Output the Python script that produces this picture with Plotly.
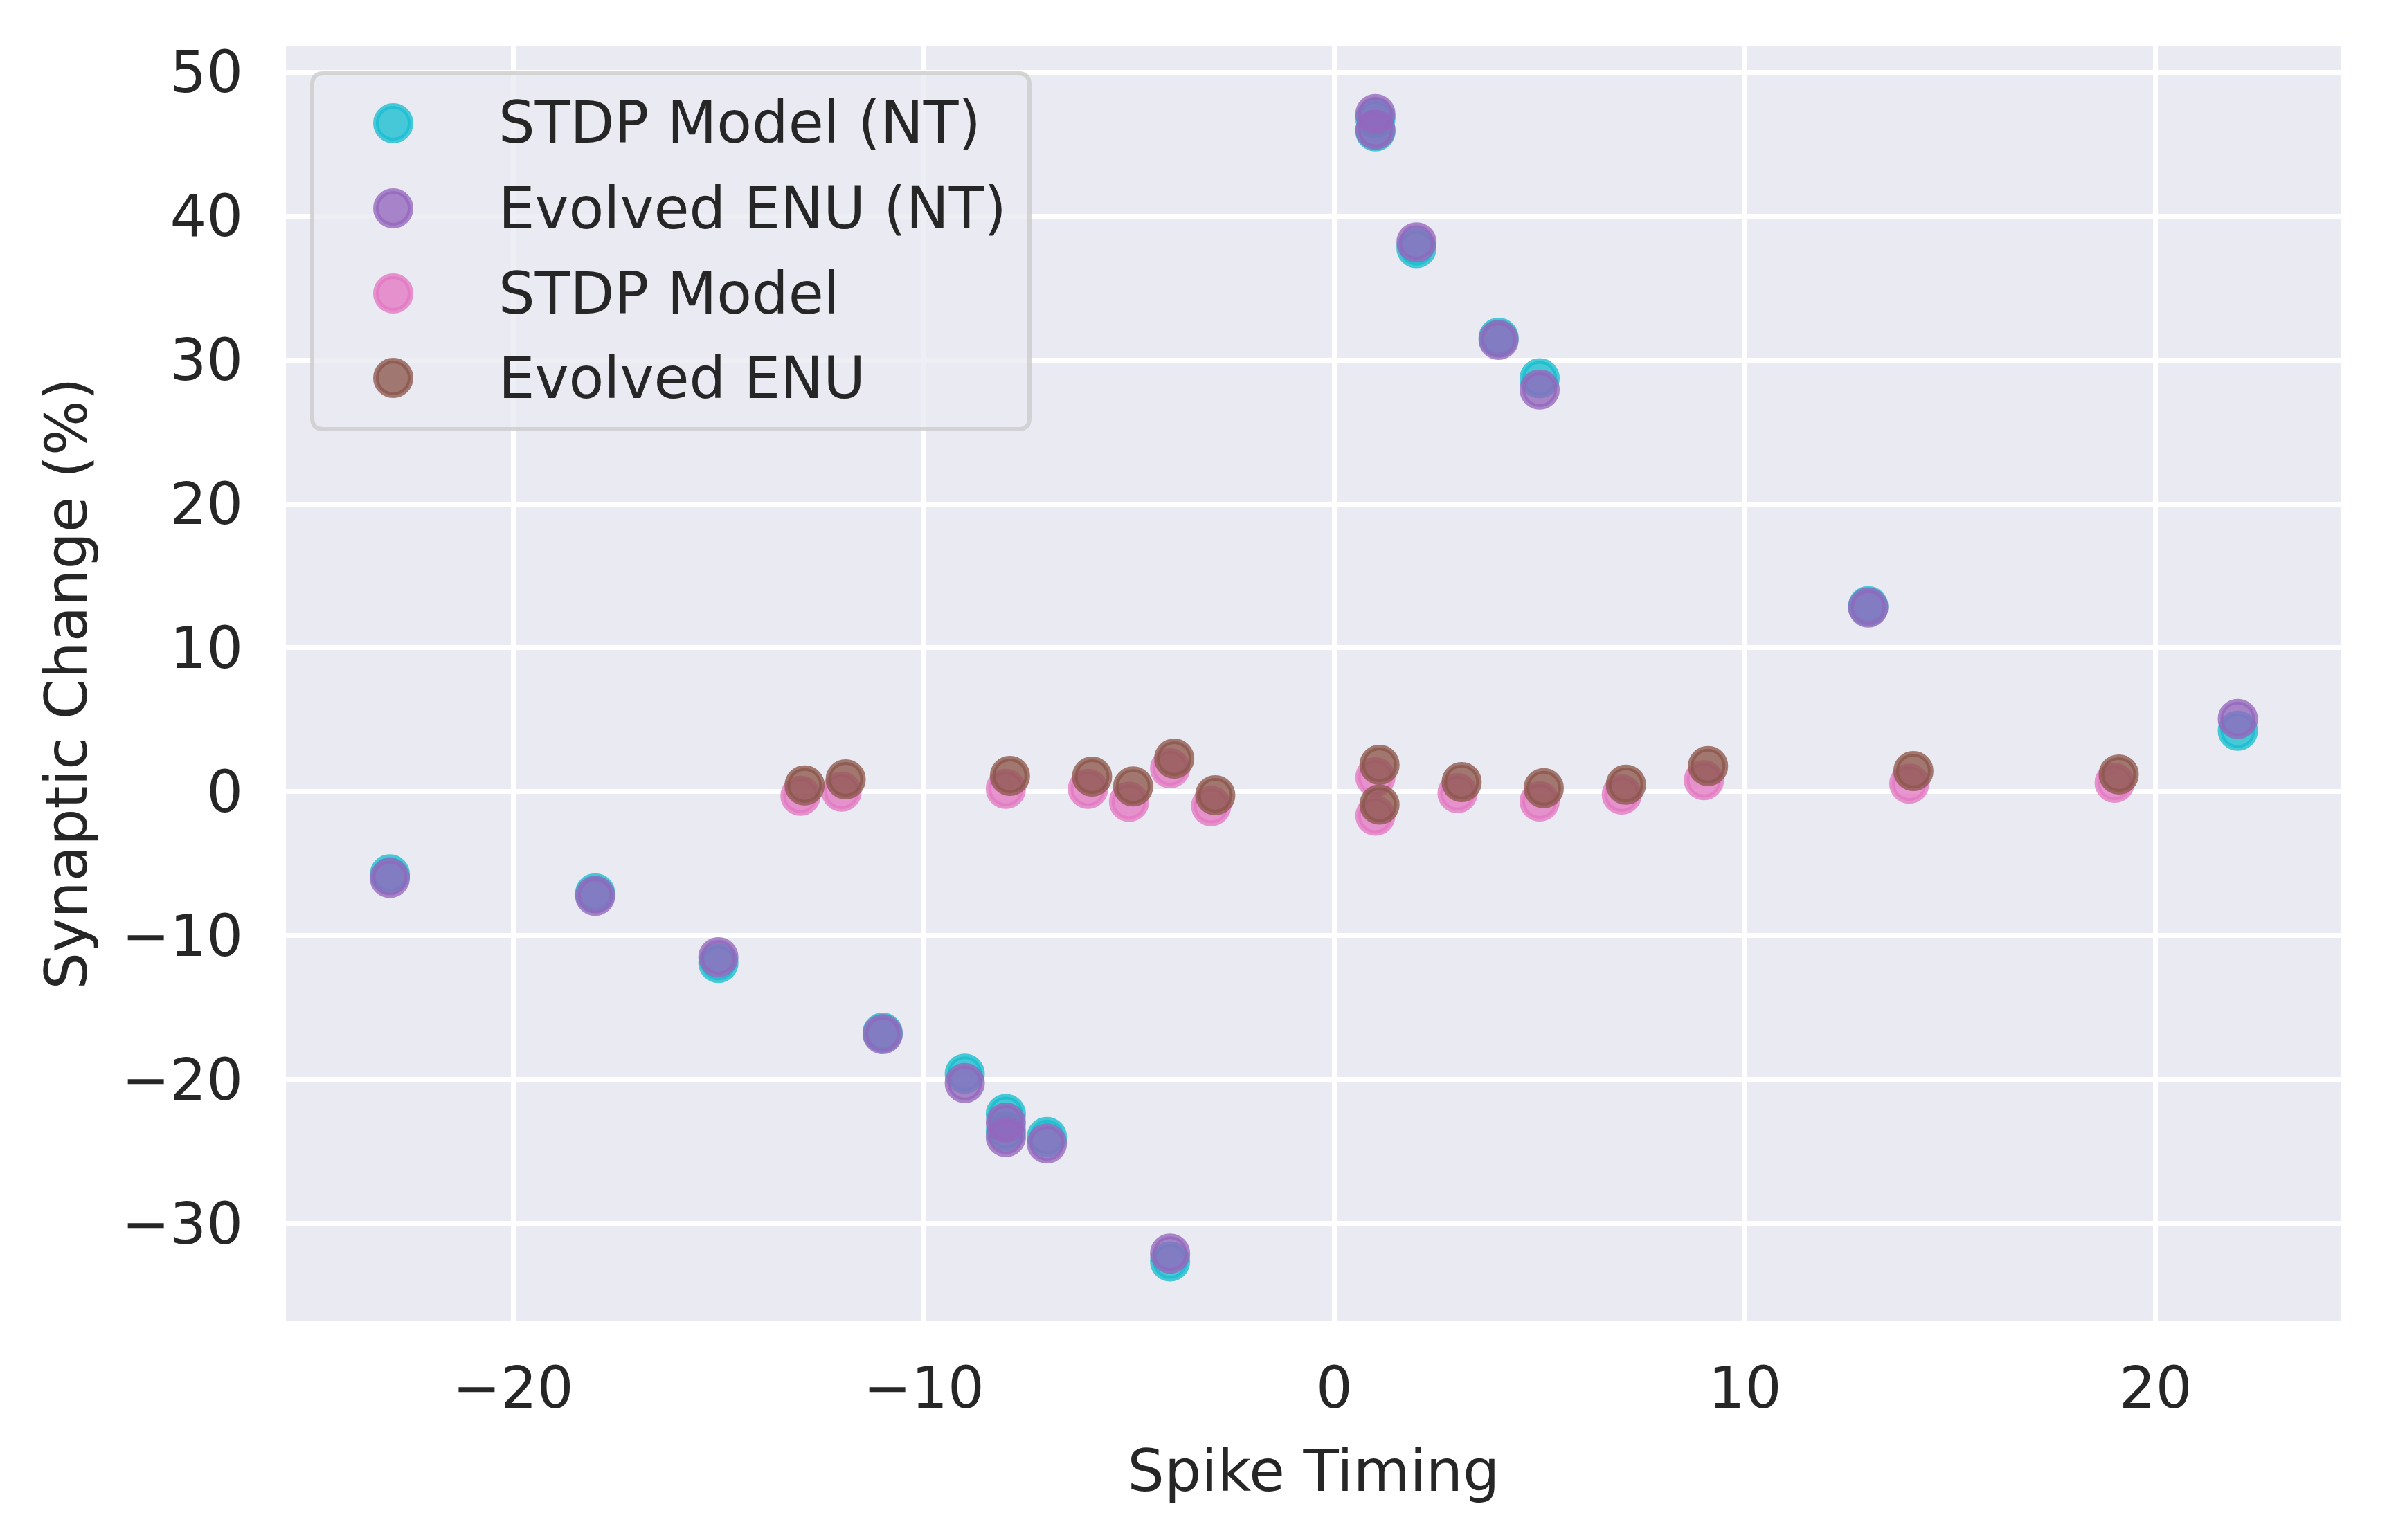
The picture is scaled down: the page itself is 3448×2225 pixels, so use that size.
import plotly.graph_objects as go

# ---- data ------------------------------------------------------------------
NT_TIMING = [-23, -18, -15, -11, -9, -8, -8, -7, -4, 1, 1, 2, 4, 5, 13, 22]
STDP_NT = [-5.75, -7.07, -11.9, -16.75, -19.6, -22.4, -23.6, -24.0, -32.65,
           46.8, 45.9, 37.78, 31.55, 28.73, 12.9, 4.24]
ENU_NT = [-6.0, -7.24, -11.5, -16.85, -20.25, -23.0, -24.0, -24.45, -32.1,
          47.1, 46.0, 38.18, 31.4, 27.95, 12.8, 5.05]

STDP_TIMING = [-13, -12, -8, -6, -5, -4, -3, 1, 1, 3, 5, 7, 9, 14, 19]
STDP = [-0.28, 0.0, 0.2, 0.2, -0.7, 1.63, -1.0, 1.0, -1.67, -0.1, -0.68,
        -0.2, 0.8, 0.56, 0.62]
ENU_TIMING = [-12.9, -11.9, -7.9, -5.9, -4.9, -3.9, -2.9, 1.1, 1.1, 3.1, 5.1,
              7.1, 9.1, 14.1, 19.1]
ENU = [0.44, 0.86, 1.1, 1.05, 0.36, 2.3, -0.25, 1.87, -0.9, 0.67, 0.24, 0.48,
       1.78, 1.43, 1.2]

SERIES = [
    ("STDP Model (NT)", NT_TIMING, STDP_NT, (23, 190, 207)),
    ("Evolved ENU (NT)", NT_TIMING, ENU_NT, (148, 103, 189)),
    ("STDP Model", STDP_TIMING, STDP, (227, 119, 194)),
    ("Evolved ENU", ENU_TIMING, ENU, (140, 86, 75)),
]

X_TICKS = [-20, -10, 0, 10, 20]
Y_TICKS = [-30, -20, -10, 0, 10, 20, 30, 40, 50]

# ---- geometry (pixels) -----------------------------------------------------
W, H = 3448, 2225
PL, PR, PT, PB = 413, 3382, 67, 1908
OFF = 8  # page body margin in the browser
FONT = dict(family="DejaVu Sans", size=83, color="#262626")
TITLE_FONT = dict(family="DejaVu Sans", size=84, color="#262626")
ALPHA = 0.78


def rgba(c, a):
    return f"rgba({c[0]},{c[1]},{c[2]},{a})"


def px_x(p):
    return (p - PL) / (PR - PL)


def px_y(p):
    return (PB - p) / (PB - PT)


fig = go.Figure()
for name, xs, ys, col in SERIES:
    fig.add_trace(go.Scatter(
        x=xs, y=ys, mode="markers", name=name, showlegend=False,
        marker=dict(size=50, color=rgba(col, ALPHA),
                    line=dict(width=8, color=rgba(col, ALPHA))),
    ))

# ---- hand-built legend (plotly caps legend marker size) -------------------
shapes = []
annotations = []
lx0, lx1, ly0, ly1, r = 451, 1487, 106, 620, 16
box = (f"M {px_x(lx0 + r)},{px_y(ly0)} L {px_x(lx1 - r)},{px_y(ly0)} "
       f"Q {px_x(lx1)},{px_y(ly0)} {px_x(lx1)},{px_y(ly0 + r)} "
       f"L {px_x(lx1)},{px_y(ly1 - r)} "
       f"Q {px_x(lx1)},{px_y(ly1)} {px_x(lx1 - r)},{px_y(ly1)} "
       f"L {px_x(lx0 + r)},{px_y(ly1)} "
       f"Q {px_x(lx0)},{px_y(ly1)} {px_x(lx0)},{px_y(ly1 - r)} "
       f"L {px_x(lx0)},{px_y(ly0 + r)} "
       f"Q {px_x(lx0)},{px_y(ly0)} {px_x(lx0 + r)},{px_y(ly0)} Z")
shapes.append(dict(type="path", path=box, xref="paper", yref="paper",
                   fillcolor="rgba(234,234,242,0.8)",
                   line=dict(color="rgba(204,204,204,0.8)", width=6),
                   layer="above"))
row_y = [178, 301, 424, 546]
mx, rad = 568, 25
for (name, _, _, col), ry in zip(SERIES, row_y):
    shapes.append(dict(type="circle", xref="paper", yref="paper",
                       x0=px_x(mx - rad), x1=px_x(mx + rad),
                       y0=px_y(ry + rad), y1=px_y(ry - rad),
                       fillcolor=rgba(col, ALPHA),
                       line=dict(color=rgba(col, ALPHA), width=8),
                       layer="above"))
    annotations.append(dict(text=name, xref="paper", yref="paper",
                            x=px_x(718), y=px_y(ry), xanchor="left",
                            yanchor="middle", showarrow=False, font=FONT))

axis_common = dict(
    showgrid=True, gridcolor="white", gridwidth=7, zeroline=False,
    showline=False, ticks="", ticklen=0, tickfont=FONT,
    title_font=TITLE_FONT,
)

fig.update_layout(
    width=W, height=H,
    margin=dict(l=PL - OFF, r=W - PR + OFF, t=PT - OFF, b=H - PB + OFF,
                autoexpand=False),
    paper_bgcolor="white", plot_bgcolor="#EAEAF2",
    font=FONT, showlegend=False,
    shapes=shapes, annotations=annotations,
    xaxis=dict(range=[-25.53, 24.52], tickvals=X_TICKS,
               title=dict(text="Spike Timing", standoff=42),
               ticklabelstandoff=42, **axis_common),
    yaxis=dict(range=[-36.76, 51.8], tickvals=Y_TICKS,
               title=dict(text="Synaptic Change (%)", standoff=22),
               ticklabelstandoff=61, **axis_common),
)

fig.write_html("out.html")
